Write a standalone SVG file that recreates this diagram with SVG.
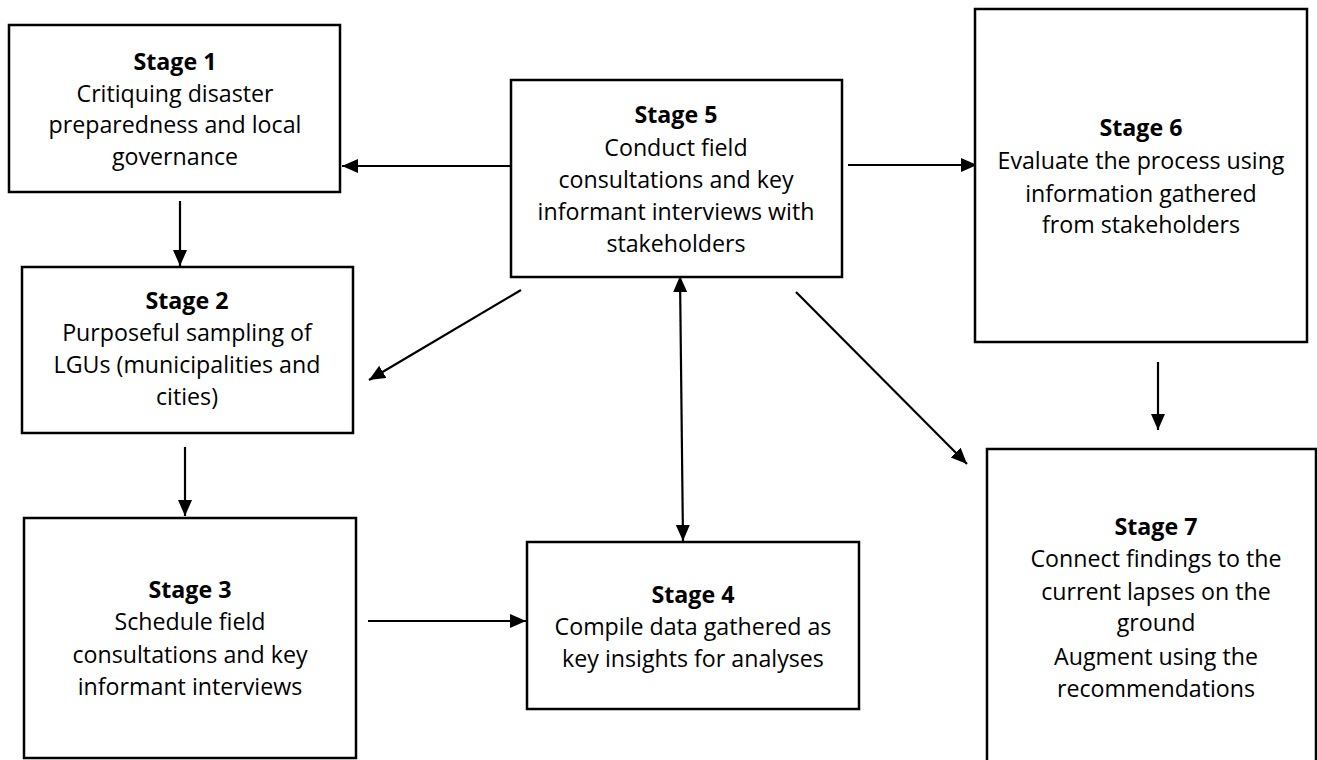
<svg xmlns="http://www.w3.org/2000/svg" width="1317" height="760" viewBox="0 0 1317 760">
<style>
.box{fill:#fff;stroke:#000;stroke-width:2.5}
.t{font-family:"Open Sans","Noto Sans",sans-serif;font-size:23.2px;fill:#000;text-anchor:middle}
.b{font-weight:bold}
.c{stroke:#000;stroke-width:2.2;fill:none}
</style>
<defs>
<marker id="ah" markerUnits="userSpaceOnUse" markerWidth="17" markerHeight="15" refX="16" refY="7" orient="auto-start-reverse" viewBox="0 0 17 15">
<path d="M0,0 L16,7 L0,14 z" fill="#000"/>
</marker>
</defs>
<rect width="1317" height="760" fill="#fff"/>
<g id="connectors">
<line class="c" x1="510" y1="166" x2="342" y2="166" marker-end="url(#ah)"/>
<line class="c" x1="180" y1="201" x2="180" y2="266" marker-end="url(#ah)"/>
<line class="c" x1="521" y1="290" x2="369" y2="380" marker-end="url(#ah)"/>
<line class="c" x1="185" y1="447" x2="185" y2="516" marker-end="url(#ah)"/>
<line class="c" x1="368" y1="621" x2="526" y2="621" marker-end="url(#ah)"/>
<line class="c" x1="680" y1="276" x2="683" y2="541" marker-start="url(#ah)" marker-end="url(#ah)"/>
<line class="c" x1="848" y1="165" x2="977" y2="165" marker-end="url(#ah)"/>
<line class="c" x1="1158" y1="362" x2="1158" y2="430" marker-end="url(#ah)"/>
<line class="c" x1="796" y1="292" x2="967" y2="464" marker-end="url(#ah)"/>
</g>
<g id="stage1">
<rect class="box" x="9" y="25" width="331" height="167"/>
<text class="t"><tspan class="b" x="175" y="70">Stage 1</tspan><tspan x="175" y="102">Critiquing disaster</tspan><tspan x="175" y="133">preparedness and local</tspan><tspan x="175" y="165">governance</tspan></text>
</g>
<g id="stage2">
<rect class="box" x="22" y="267" width="331" height="166"/>
<text class="t"><tspan class="b" x="187" y="309">Stage 2</tspan><tspan x="187" y="341">Purposeful sampling of</tspan><tspan x="187" y="373">LGUs (municipalities and</tspan><tspan x="187" y="405">cities)</tspan></text>
</g>
<g id="stage3">
<rect class="box" x="24" y="518" width="332" height="240"/>
<text class="t"><tspan class="b" x="190" y="598">Stage 3</tspan><tspan x="190" y="630">Schedule field</tspan><tspan x="190" y="663">consultations and key</tspan><tspan x="190" y="695">informant interviews</tspan></text>
</g>
<g id="stage4">
<rect class="box" x="527" y="542" width="332" height="167"/>
<text class="t"><tspan class="b" x="693" y="603">Stage 4</tspan><tspan x="693" y="635">Compile data gathered as</tspan><tspan x="693" y="667">key insights for analyses</tspan></text>
</g>
<g id="stage5">
<rect class="box" x="511" y="80" width="331" height="197"/>
<text class="t"><tspan class="b" x="676" y="123">Stage 5</tspan><tspan x="676" y="156">Conduct field</tspan><tspan x="676" y="188">consultations and key</tspan><tspan x="676" y="220">informant interviews with</tspan><tspan x="676" y="252">stakeholders</tspan></text>
</g>
<g id="stage6">
<rect class="box" x="975" y="9" width="332" height="333"/>
<text class="t"><tspan class="b" x="1141" y="136">Stage 6</tspan><tspan x="1141" y="169">Evaluate the process using</tspan><tspan x="1141" y="202">information gathered</tspan><tspan x="1141" y="233">from stakeholders</tspan></text>
</g>
<g id="stage7">
<rect class="box" x="987" y="449" width="329" height="330"/>
<text class="t"><tspan class="b" x="1156" y="535">Stage 7</tspan><tspan x="1156" y="567">Connect findings to the</tspan><tspan x="1156" y="600">current lapses on the</tspan><tspan x="1156" y="631">ground</tspan><tspan x="1156" y="665">Augment using the</tspan><tspan x="1156" y="697">recommendations</tspan></text>
</g>
</svg>
